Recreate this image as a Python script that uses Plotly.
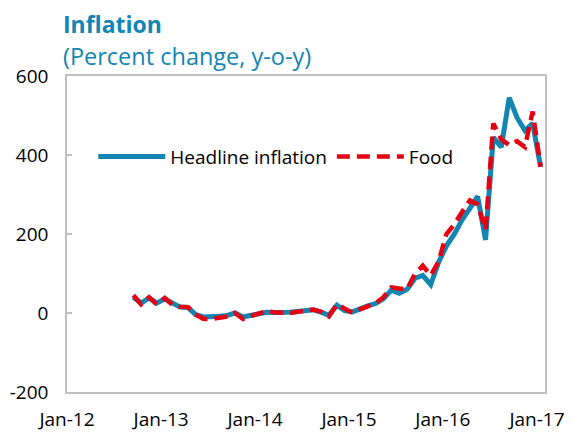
import pandas as pd
import plotly.graph_objects as go

months = pd.date_range("2012-09-01", periods=53, freq="MS") + pd.Timedelta(days=14)

headline = [40, 25, 38, 25,
            36, 24, 15, 14, -4, -10, -10, -8, -6, 0, -10, -6,
            -2, 2, 1, 0, 2, 4, 6, 8, 2, -6, 20, 6,
            3, 12, 18, 24, 36, 58, 50, 60, 88, 95, 72, 128,
            170, 200, 235, 265, 295, 185, 445, 420, 545, 495, 462, 480,
            370]
food = [45, 22, 40, 22,
        38, 20, 16, 15, -4, -15, -15, -13, -9, 0, -15, -8,
        -2, 5, 2, 0, 0, 3, 5, 9, 3, -9, 22, 10,
        0, 10, 18, 25, 40, 65, 62, 60, 100, 120, 95, 130,
        200, 225, 255, 285, 275, 210, 480, 440, 425, 435, 420, 510,
        370]

tick_dates = ["2012-01-01", "2013-01-01", "2014-01-01", "2015-01-01", "2016-01-01", "2017-01-01"]
tick_text = ["Jan-12", "Jan-13", "Jan-14", "Jan-15", "Jan-16", "Jan-17"]
x_range = ["2012-01-01", "2017-02-01"]
y_ticks = [-200, 0, 200, 400, 600]
y_tick_text = ["-200", "0", "200", "400", "600"]

FONT = "Open Sans"
TEAL = "#1185B3"
GRAY = "#BFBFBF"

fig = go.Figure()
fig.add_trace(go.Scatter(x=months, y=headline, mode="lines", name="Headline inflation",
                         line=dict(color="#1385B2", width=5)))
fig.add_trace(go.Scatter(x=months, y=food, mode="lines", name="Food",
                         line=dict(color="#E60012", width=4.5, dash="13px,7px")))

# the page body has an 8px default margin, so the figure is sized/offset to compensate
fig.update_layout(
    width=565, height=424,
    margin=dict(l=59, r=28, t=68, b=40),
    paper_bgcolor="white", plot_bgcolor="white",
    font=dict(family=FONT, size=19, color="black"),
    showlegend=True,
    legend=dict(orientation="h", x=0.055, y=0.745, xanchor="left", yanchor="middle",
                bgcolor="rgba(0,0,0,0)", font=dict(size=19, family=FONT),
                itemwidth=67, tracegroupgap=0),
    xaxis=dict(type="date", range=x_range, tickvals=tick_dates, ticktext=tick_text,
               showline=True, mirror=True, linecolor=GRAY, linewidth=1.5,
               showgrid=False, zeroline=False, ticks="", ticklabelstandoff=9,
               automargin=False, tickfont=dict(size=19, color="black")),
    xaxis2=dict(type="date", range=x_range, tickvals=tick_dates, overlaying="x",
                anchor="free", position=0.25, showline=True, linecolor=GRAY, linewidth=1.5,
                ticks="inside", ticklen=6, tickcolor=GRAY, tickwidth=1.5, automargin=False,
                showticklabels=False, showgrid=False, zeroline=False),
    yaxis=dict(range=[-200, 600], tickvals=y_ticks, ticktext=y_tick_text, showline=True,
               mirror=True, linecolor=GRAY, linewidth=1.5, ticks="inside", ticklen=5,
               tickcolor=GRAY, tickwidth=1.5, showgrid=False, zeroline=False,
               automargin=False, ticklabelstandoff=13, tickfont=dict(size=19, color="black")),
    annotations=[
        dict(text="<b>Inflation</b>", xref="paper", yref="paper", x=-0.01, y=1.164,
             xanchor="left", yanchor="middle", showarrow=False, borderpad=0,
             font=dict(size=23, color=TEAL, family=FONT)),
        dict(text="(Percent change, y-o-y)", xref="paper", yref="paper", x=-0.01, y=1.063,
             xanchor="left", yanchor="middle", showarrow=False, borderpad=0,
             font=dict(size=23.5, color=TEAL, family=FONT)),
    ],
)

fig.write_html("out.html")
